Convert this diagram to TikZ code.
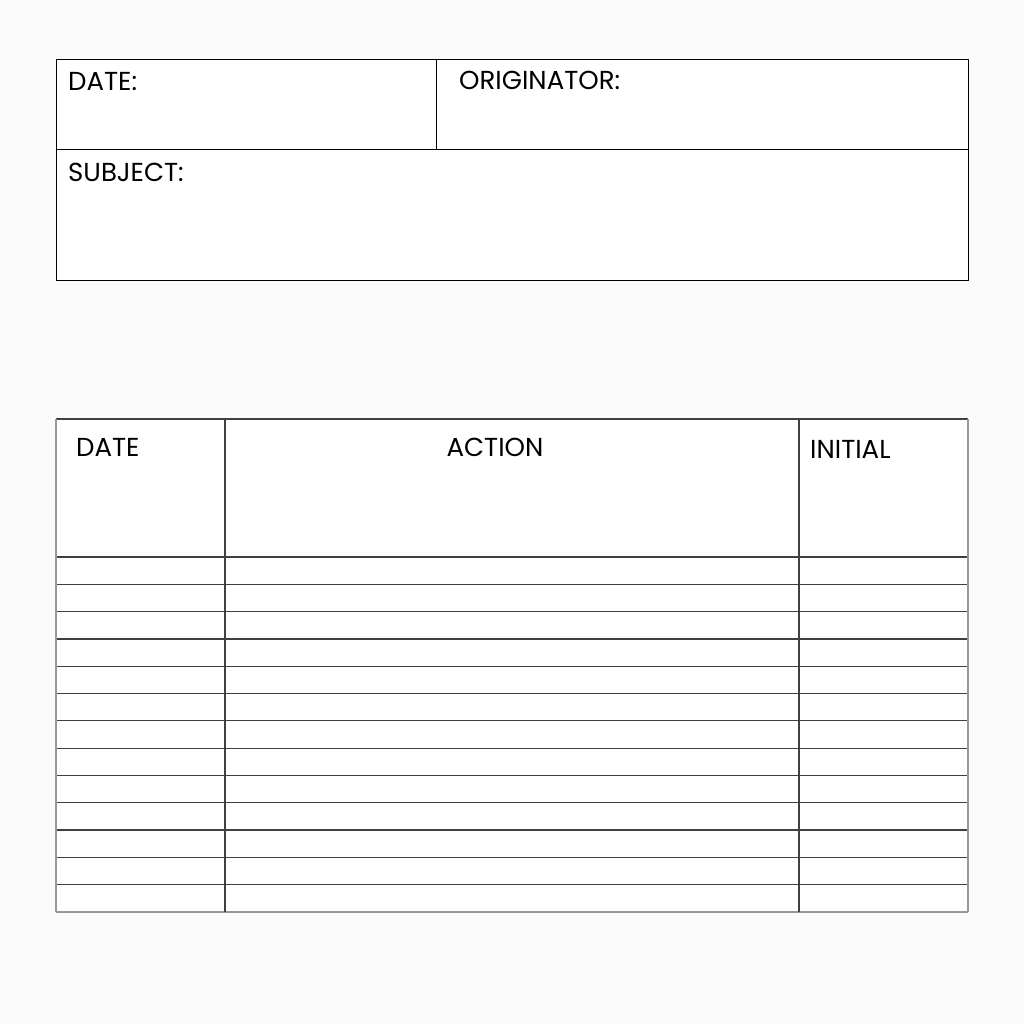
\documentclass[tikz,border=0pt]{standalone}
\usepackage{fontspec}
\setmainfont{Poppins}
\begin{document}
\begin{tikzpicture}[x=1pt,y=-1pt,
  box/.style={draw=black,line width=1pt},
  rule/.style={draw=black!75,line width=1.2pt},
  edge/.style={draw=black!40,line width=1.2pt},
  lbl/.style={anchor=west,inner sep=0pt,font=\fontsize{26}{30}\selectfont}]
\fill[black!1.5] (0,0) rectangle (1024,1024);
\useasboundingbox (0,0) rectangle (1024,1024);
% top box
\fill[white] (56,60) rectangle (968,280);
\draw[box] (56,60) rectangle (968,280);
\draw[box] (56,150) -- (968,150);
\draw[box] (436,60) -- (436,150);
\node[lbl] (date) at (68,82) {DATE:};
\node[lbl] (orig) at (459,80) {ORIGINATOR:};
\node[lbl] (subj) at (68,172) {SUBJECT:};
% table
\fill[white] (56,419) rectangle (968,912);
\draw[rule] (56,419) -- (968,419);
\foreach \y in {557,584.3,611.6,638.9,666.2,693.5,720.8,748.1,775.4,802.7,830,857.3,884.6}
  \draw[rule] (56,\y) -- (968,\y);
\draw[edge] (56,912) -- (968,912);
\draw[edge] (56,419) -- (56,912);
\draw[edge] (968,419) -- (968,912);
\draw[rule] (225,419) -- (225,912);
\draw[rule] (799,419) -- (799,912);
\node[lbl] (hdate) at (76,447) {DATE};
\node[lbl,anchor=center] (hact) at (495,447) {ACTION};
\node[lbl] (hinit) at (810,449) {INITIAL};
\end{tikzpicture}
\end{document}
